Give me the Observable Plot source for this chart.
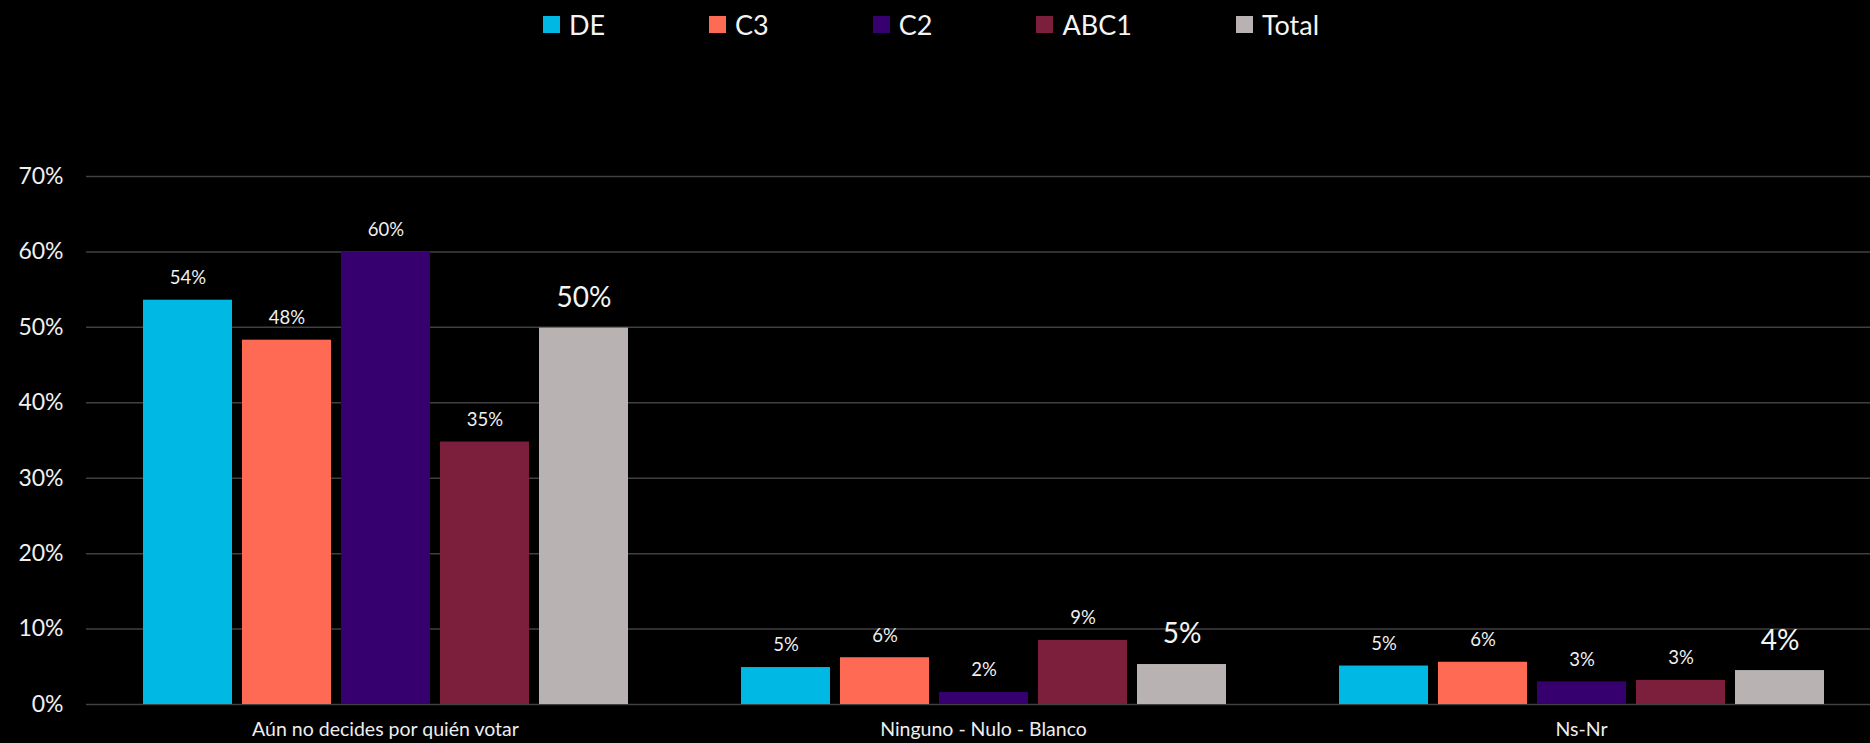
<!DOCTYPE html>
<html><head><meta charset="utf-8">
<script src="https://cdn.jsdelivr.net/npm/d3@7"></script>
<script src="https://cdn.jsdelivr.net/npm/@observablehq/plot@0.6"></script>
<style>
html,body{margin:0;padding:0;background:#000;overflow:hidden;}
body{width:1870px;height:743px;font-family:Lato,"Open Sans",sans-serif;color:#f4f4f4;}
#legend{height:48px;display:flex;justify-content:center;align-items:center;gap:104px;font-size:27px;padding-right:8px;}
.item{display:flex;align-items:center;}
.sw{width:17px;height:17px;margin-right:9px;}
svg{display:block;}
</style></head><body>
<div id="legend"></div>
<div id="chart"></div>
<script>
const categories = ["Aún no decides por quién votar", "Ninguno - Nulo - Blanco", "Ns-Nr"];
const series = ["DE", "C3", "C2", "ABC1", "Total"];
const colors = ["#00B8E4", "#FF6A55", "#36006F", "#7B1F3D", "#B8B2B2"];
const valuesDE    = [0.536, 0.049, 0.051];
const valuesC3    = [0.483, 0.062, 0.056];
const valuesC2    = [0.600, 0.016, 0.030];
const valuesABC1  = [0.348, 0.085, 0.032];
const valuesTotal = [0.499, 0.053, 0.045];
const labelsDE    = ["54%", "5%", "5%"];
const labelsC3    = ["48%", "6%", "6%"];
const labelsC2    = ["60%", "2%", "3%"];
const labelsABC1  = ["35%", "9%", "3%"];
const labelsTotal = ["50%", "5%", "4%"];
const yTicks = [0, 0.1, 0.2, 0.3, 0.4, 0.5, 0.6, 0.7];

const seriesValues = [valuesDE, valuesC3, valuesC2, valuesABC1, valuesTotal];
const seriesLabels = [labelsDE, labelsC3, labelsC2, labelsABC1, labelsTotal];
const data = [];
series.forEach((s, i) => categories.forEach((c, j) =>
  data.push({category: c, series: s, value: seriesValues[i][j], label: seriesLabels[i][j]})));

// legend
const legend = document.getElementById("legend");
series.forEach((s, i) => {
  const it = document.createElement("div"); it.className = "item";
  const sw = document.createElement("div"); sw.className = "sw"; sw.style.background = colors[i];
  const tx = document.createElement("span"); tx.textContent = s;
  it.appendChild(sw); it.appendChild(tx); legend.appendChild(it);
});

const chart = Plot.plot({
  width: 1870, height: 695,
  marginTop: 128, marginBottom: 39, marginLeft: 86, marginRight: 0,
  style: {background: "#000", color: "#f4f4f4", fontFamily: "Lato, 'Open Sans', sans-serif"},
  fx: {domain: categories, range: [86, 1880], paddingInner: 0, paddingOuter: 0, axis: null},
  x: {domain: series, paddingInner: 0.104, paddingOuter: 0.564, axis: null},
  y: {domain: [0, 0.7], axis: null},
  color: {domain: series, range: colors},
  marks: [
    Plot.gridY({ticks: yTicks, stroke: "#404040", strokeOpacity: 1, strokeWidth: 1.5}),
    Plot.axisY({ticks: yTicks, anchor: "left", tickSize: 0, tickPadding: 23, label: null,
      tickFormat: d3.format(".0%"), fontSize: 23, fill: "#f0f0f0"}),
    Plot.barY(data, {fx: "category", x: "series", y: "value", fill: "series"}),
    Plot.text(data.filter(d => d.series !== "Total"),
      {fx: "category", x: "series", y: "value", text: "label", dy: -22, fontSize: 18.5, fill: "#f0f0f0"}),
    Plot.text(data.filter(d => d.series === "Total"),
      {fx: "category", x: "series", y: "value", text: "label", dy: -30, fontSize: 28, fill: "#f4f4f4"}),
    Plot.axisFx({anchor: "bottom", tickSize: 0, tickPadding: 18, label: null, fontSize: 19.5, fill: "#eeeeee"})
  ]
});
document.getElementById("chart").appendChild(chart);
</script>
</body></html>
